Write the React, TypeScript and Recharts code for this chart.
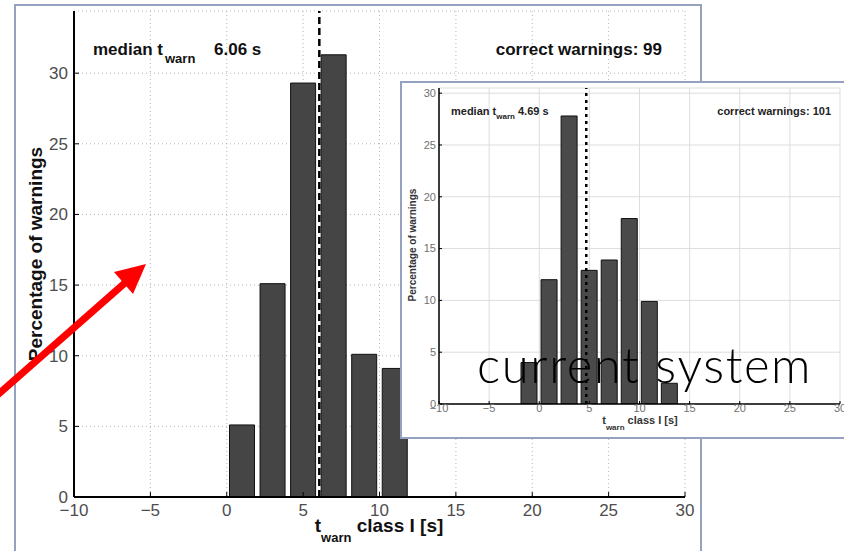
import { Bar, CartesianGrid, ComposedChart, ReferenceLine, XAxis, YAxis } from "recharts";

// histogram bins of 2 s, from -10 s to 30 s (start of each class)
const BIN_STARTS = [-10, -8, -6, -4, -2, 0, 2, 4, 6, 8, 10, 12, 14, 16, 18, 20, 22, 24, 26, 28];
// percentage of warnings per class, new system (big plot)
const NEW_PCT = [0, 0, 0, 0, 0, 5.1, 15.1, 29.3, 31.3, 10.1, 9.1, 0, 0, 0, 0, 0, 0, 0, 0, 0];
// percentage of warnings per class, current system (inset)
const CURRENT_PCT = [0, 0, 0, 0, 4, 12, 27.8, 12.9, 13.9, 17.9, 9.9, 2, 0, 0, 0, 0, 0, 0, 0, 0];

const X_TICKS = [-10, -5, 0, 5, 10, 15, 20, 25, 30];
const Y_TICKS = [0, 5, 10, 15, 20, 25, 30];

const NEW_MEDIAN = 6.06;
const CURRENT_MEDIAN = 4.69;
const NEW_COUNT = 99;
const CURRENT_COUNT = 101;

const FONT = '"Liberation Sans", Arial, Helvetica, sans-serif';
const FRAME = "#94a2c0";

const fmtTick = (v: number) => (v < 0 ? `\u2212${Math.abs(v)}` : String(v));

const toRows = (values: number[]) =>
  BIN_STARTS.map((start, i) => ({ bin: String(start), center: start + 1, pct: values[i] }));

type HistogramProps = {
  values: number[];
  median: number;
  width: number;
  height: number;
  margin: { top: number; right: number; bottom: number; left: number };
  yAxisWidth: number;
  xAxisHeight: number;
  yMax: number;
  tickFontSize: number;
  tickFill: string;
  tickLen: number;
  xTickMargin: number;
  yTickMargin: number;
  axisWidth: number;
  grid: { stroke: string; strokeDasharray?: string };
  medianWidth: number;
  medianDash: string;
  barFill: string;
};

function Histogram(p: HistogramProps) {
  const rows = toRows(p.values);
  const tick = { fontSize: p.tickFontSize, fill: p.tickFill, fontFamily: FONT };
  const axisLine = { stroke: "#000", strokeWidth: p.axisWidth };
  const tickLine = { stroke: "#000", strokeWidth: 1 };
  return (
    <ComposedChart width={p.width} height={p.height} data={rows} margin={p.margin} barCategoryGap="9%">
      <CartesianGrid xAxisId="num" yAxisId="left" {...p.grid} />
      <XAxis xAxisId="bins" dataKey="bin" hide height={0} />
      <XAxis
        xAxisId="num"
        dataKey="center"
        type="number"
        domain={[-10, 30]}
        ticks={X_TICKS}
        interval={0}
        allowDataOverflow
        height={p.xAxisHeight}
        tickFormatter={fmtTick}
        tick={tick}
        tickSize={-p.tickLen}
        tickMargin={p.xTickMargin}
        axisLine={axisLine}
        tickLine={tickLine}
      />
      <XAxis
        xAxisId="top"
        orientation="top"
        dataKey="center"
        type="number"
        domain={[-10, 30]}
        ticks={X_TICKS}
        interval={0}
        allowDataOverflow
        height={0}
        tick={false}
        tickSize={-p.tickLen}
        axisLine={axisLine}
        tickLine={tickLine}
      />
      <YAxis
        yAxisId="left"
        type="number"
        domain={[0, p.yMax]}
        ticks={Y_TICKS}
        interval={0}
        allowDataOverflow
        width={p.yAxisWidth}
        tick={tick}
        tickSize={-p.tickLen}
        tickMargin={p.yTickMargin}
        axisLine={axisLine}
        tickLine={tickLine}
      />
      <YAxis
        yAxisId="right"
        orientation="right"
        type="number"
        domain={[0, p.yMax]}
        ticks={Y_TICKS}
        interval={0}
        allowDataOverflow
        width={0}
        tick={false}
        tickSize={-p.tickLen}
        axisLine={axisLine}
        tickLine={tickLine}
      />
      <Bar
        xAxisId="bins"
        yAxisId="left"
        dataKey="pct"
        fill={p.barFill}
        stroke="#111"
        strokeWidth={1}
        isAnimationActive={false}
      />
      <ReferenceLine
        xAxisId="num"
        yAxisId="left"
        x={p.median}
        stroke="#000"
        strokeWidth={p.medianWidth}
        strokeDasharray={p.medianDash}
      />
    </ComposedChart>
  );
}

export default function App() {
  return (
    <div
      style={{
        position: "absolute",
        left: 0,
        top: 0,
        width: 844,
        height: 551,
        overflow: "hidden",
        background: "#fff",
        fontFamily: FONT,
      }}
    >
      {/* outer slide frame */}
      <div
        style={{
          position: "absolute",
          left: 14,
          top: 4,
          width: 684,
          height: 600,
          border: `2px solid ${FRAME}`,
        }}
      />

      {/* new system */}
      <div style={{ position: "absolute", left: 0, top: 0 }}>
        <Histogram
          values={NEW_PCT}
          median={NEW_MEDIAN}
          width={700}
          height={551}
          margin={{ top: 11, right: 15, bottom: 0, left: 0 }}
          yAxisWidth={74}
          xAxisHeight={54}
          yMax={34.4}
          tickFontSize={17}
          tickFill="#4d4d4d"
          tickLen={5}
          xTickMargin={12}
          yTickMargin={11}
          axisWidth={2}
          grid={{ stroke: "#b5b5b5", strokeDasharray: "1 3" }}
          medianWidth={2.5}
          medianDash="7 4"
          barFill="#454545"
        />
      </div>

      <svg
        width={844}
        height={551}
        style={{ position: "absolute", left: 0, top: 0, pointerEvents: "none" }}
        fontFamily={FONT}
      >
        <text x={93} y={55} fontSize={17} fontWeight="bold" fill="#111">
          median t
        </text>
        <text x={165} y={63} fontSize={13} fontWeight="bold" fill="#111">
          warn
        </text>
        <text x={214} y={55} fontSize={17} fontWeight="bold" fill="#111">
          {`${NEW_MEDIAN.toFixed(2)} s`}
        </text>
        <text x={662} y={55} fontSize={17} fontWeight="bold" fill="#111" textAnchor="end">
          {`correct warnings: ${NEW_COUNT}`}
        </text>
        <text
          transform="translate(35,254) rotate(-90)"
          textAnchor="middle"
          dominantBaseline="central"
          fontSize={19}
          fontWeight="bold"
          fill="#111"
        >
          Percentage of warnings
        </text>
        <text x={379} y={532} textAnchor="middle" fontSize={19} fontWeight="bold" fill="#111">
          <tspan>t</tspan>
          <tspan dy={10} fontSize={13}>
            warn
          </tspan>
          <tspan dy={-10}> class I [s]</tspan>
        </text>
        {/* red pointer */}
        <line x1={-6} y1={398} x2={126} y2={282} stroke="#ff0000" strokeWidth={7} />
        <polygon points="146,264 133,294 114,272" fill="#ff0000" />
      </svg>

      {/* inset: current system */}
      <div
        style={{
          position: "absolute",
          left: 400,
          top: 81,
          width: 460,
          height: 354,
          border: `2px solid ${FRAME}`,
          background: "#fff",
        }}
      />
      <div style={{ position: "absolute", left: 400, top: 82 }}>
        <Histogram
          values={CURRENT_PCT}
          median={CURRENT_MEDIAN}
          width={444}
          height={357}
          margin={{ top: 6, right: 4, bottom: 0, left: 0 }}
          yAxisWidth={39}
          xAxisHeight={35}
          yMax={30.5}
          tickFontSize={11}
          tickFill="#707070"
          tickLen={3}
          xTickMargin={3}
          yTickMargin={6}
          axisWidth={1.5}
          grid={{ stroke: "#dddddd" }}
          medianWidth={2.5}
          medianDash="3 4"
          barFill="#4a4a4a"
        />
      </div>

      <svg
        width={844}
        height={551}
        style={{ position: "absolute", left: 0, top: 0, pointerEvents: "none" }}
        fontFamily={FONT}
      >
        <text x={451} y={115} fontSize={11} fontWeight="bold" fill="#222">
          <tspan>median t</tspan>
          <tspan dy={4} fontSize={8}>
            warn
          </tspan>
          <tspan dy={-4}>{`  ${CURRENT_MEDIAN.toFixed(2)} s`}</tspan>
        </text>
        <text x={831} y={115} fontSize={11} fontWeight="bold" fill="#222" textAnchor="end">
          {`correct warnings: ${CURRENT_COUNT}`}
        </text>
        <text
          transform="translate(412,245) rotate(-90)"
          textAnchor="middle"
          dominantBaseline="central"
          fontSize={10}
          fontWeight="bold"
          fill="#333"
        >
          Percentage of warnings
        </text>
        <text x={640} y={424} textAnchor="middle" fontSize={11} fontWeight="bold" fill="#333">
          <tspan>t</tspan>
          <tspan dy={6} fontSize={8}>
            warn
          </tspan>
          <tspan dy={-6}> class I [s]</tspan>
        </text>
        <text
          x={477}
          y={383}
          fontSize={49}
          fontWeight={300}
          letterSpacing={1.6}
          fontFamily="Lato, 'DejaVu Sans', sans-serif"
          fill="#000"
        >
          current system
        </text>
      </svg>
    </div>
  );
}
